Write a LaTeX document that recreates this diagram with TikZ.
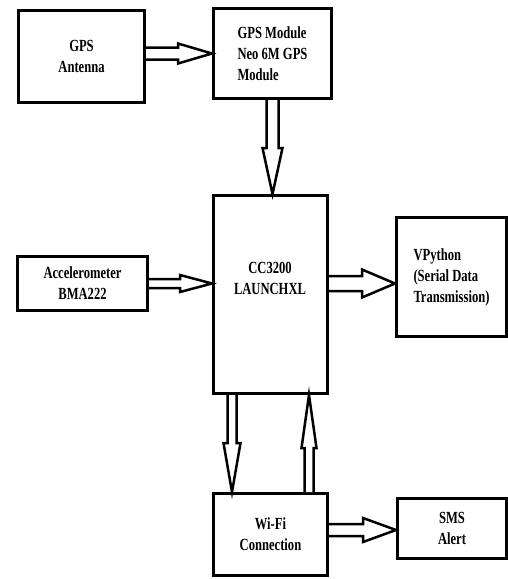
\documentclass[tikz,border=0pt]{standalone}
\usepackage{fontspec}
\setmainfont{Liberation Serif}[FakeStretch=0.74]
\usetikzlibrary{calc}
\tikzset{
  blk/.style={draw=black, line width=3pt, rectangle, inner sep=0pt, align=center,
              font=\fontsize{17}{21}\selectfont\bfseries},
  txt/.style={inner sep=0pt, align=center, font=\fontsize{17}{21}\selectfont\bfseries},
  harr/.style={draw=black, line width=2.5pt, line join=miter, fill=white}
}
% #1 from, #2 to, #3 shaft half-width, #4 head half-width, #5 head length (pt)
\newcommand{\hollowarrow}[5]{%
  \coordinate (hA) at #1;
  \coordinate (hB) at #2;
  \coordinate (hC) at ($(hB)!#5pt!(hA)$);
  \draw[harr] ($(hA)!#3pt!90:(hB)$) -- ($(hC)!#3pt!90:(hB)$) -- ($(hC)!#4pt!90:(hB)$)
     -- (hB) -- ($(hC)!#4pt!-90:(hB)$) -- ($(hC)!#3pt!-90:(hB)$) -- ($(hA)!#3pt!-90:(hB)$);
}
\begin{document}
\begin{tikzpicture}[x=1pt,y=1pt]
\useasboundingbox (0,0) rectangle (508,-579);
\fill[white] (0,0) rectangle (508,-579);

\node[blk, minimum width=126pt, minimum height=92pt] (ant) at (81.5,-56.5) {GPS\\Antenna};
\node[blk, minimum width=118pt, minimum height=90pt, align=left] (mod) at (272.5,-53.5) {GPS Module\\Neo 6M GPS\\Module};
\node[blk, minimum width=114pt, minimum height=198pt] (cc) at (270.5,-294.5) {};
\node[txt] (cctext) at (270,-278) {CC3200\\LAUNCHXL};
\node[blk, minimum width=130pt, minimum height=54pt] (acc) at (82.5,-283.5) {Accelerometer\\BMA222};
\node[blk, minimum width=110pt, minimum height=119pt, align=left] (vp) at (451.5,-277) {VPython\\(Serial Data\\Transmission)};
\node[blk, minimum width=114pt, minimum height=82pt] (wifi) at (270.5,-534.5) {Wi-Fi\\Connection};
\node[blk, minimum width=109pt, minimum height=60pt] (sms) at (452,-528.5) {SMS\\Alert};

\coordinate (cd) at ($(cc.south west)+(20,0)$);
\coordinate (cu) at ($(wifi.north east)+(-20,0)$);
\coordinate (ws) at ($(wifi.east)+(0,4.5)$);

\hollowarrow{(ant.east|-mod.west)}{(mod.west)}{6}{10}{34}
\hollowarrow{(mod.south)}{(mod.south|-cc.north)}{6}{10}{46}
\hollowarrow{(acc.east)}{(acc.east-|cc.west)}{4.5}{8.5}{32}
\hollowarrow{(cc.east|-acc.east)}{(vp.west|-acc.east)}{7.5}{14}{33}
\hollowarrow{(cd)}{(cd|-wifi.north)}{4.5}{8.5}{49}
\hollowarrow{(cu)}{(cu|-cc.south)}{4.5}{7.5}{53}
\hollowarrow{(ws)}{(ws-|sms.west)}{6}{12}{33}
\end{tikzpicture}
\end{document}
